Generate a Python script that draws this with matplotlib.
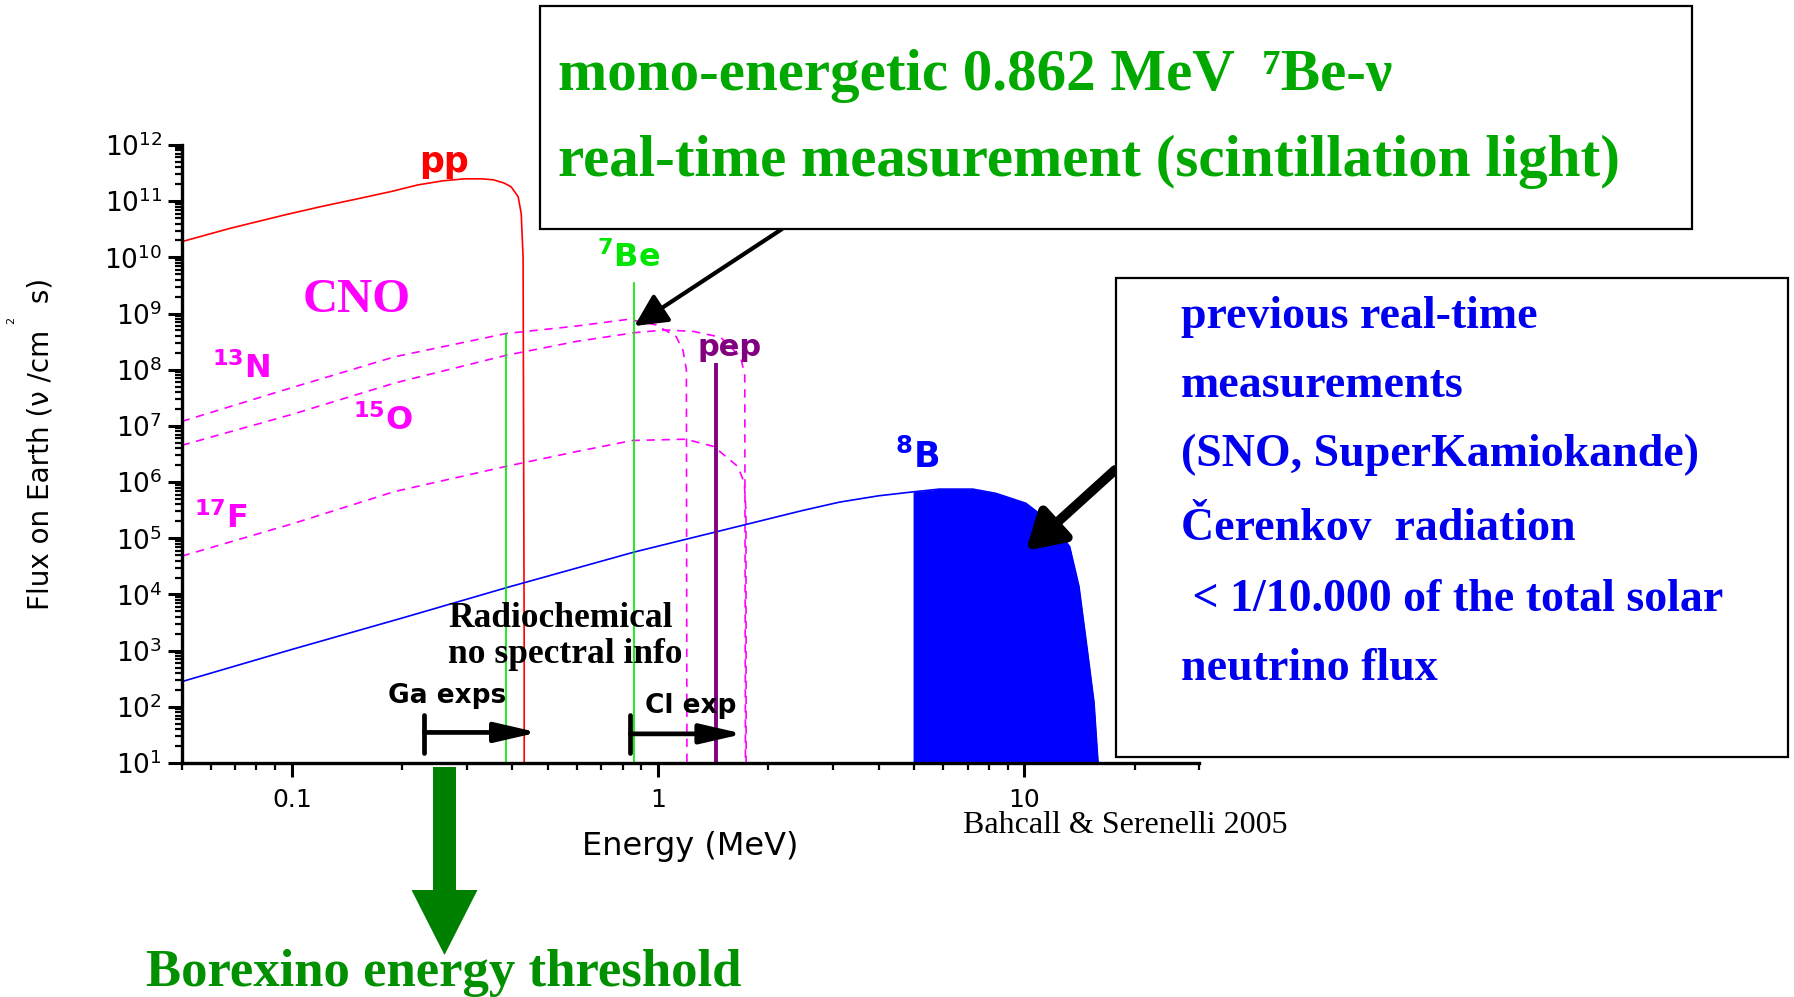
import matplotlib

matplotlib.use("Agg")

import matplotlib.pyplot as plt
import numpy as np
from matplotlib.patches import FancyArrow, Rectangle
from matplotlib.ticker import FuncFormatter, LogLocator, NullFormatter

W, H = 1794, 997

# solar neutrino spectra (energy in MeV, flux in nu/cm^2 s)
pp_energy = [0.05, 0.068, 0.0957, 0.12, 0.150, 0.188, 0.221, 0.258, 0.296, 0.33, 0.355, 0.38,
             0.397, 0.415, 0.423, 0.428, 0.431, 0.431]
pp_flux = [1.9e10, 3.3e10, 5.7e10, 8.0e10, 1.09e11, 1.5e11, 1.95e11, 2.3e11, 2.5e11, 2.5e11,
           2.4e11, 2.1e11, 1.8e11, 1.2e11, 6e10, 1e10, 1e3, 10]

n13_energy = [0.05, 0.1, 0.191, 0.384, 0.6, 0.83, 0.986, 1.12, 1.17, 1.195, 1.199]
n13_flux = [1.2e7, 4.8e7, 1.7e8, 4.4e8, 6.0e8, 7.9e8, 6.3e8, 3.9e8, 2.2e8, 1.0e8, 10]

o15_energy = [0.05, 0.1, 0.191, 0.384, 0.6, 0.87, 1.05, 1.25, 1.48, 1.68, 1.725, 1.732]
o15_flux = [4.5e6, 1.6e7, 5.8e7, 1.8e8, 3.2e8, 4.6e8, 5.1e8, 4.8e8, 3.8e8, 1.7e8, 8e7, 10]

f17_energy = [0.05, 0.1, 0.191, 0.384, 0.6, 0.85, 1.19, 1.42, 1.65, 1.72, 1.738, 1.74]
f17_flux = [4.8e4, 1.8e5, 6.8e5, 1.9e6, 3.5e6, 5.5e6, 5.8e6, 4.3e6, 1.9e6, 9.8e5, 3e5, 10]

b8_energy = [0.05, 0.1, 0.2, 0.39, 0.862, 1.44, 2.47, 3.13, 4.0, 4.97, 5.86, 7.23, 8.37,
             10.1, 11.9, 13.3, 14.1, 14.9, 15.5, 15.9]
b8_flux = [2.8e2, 1.05e3, 3.8e3, 1.35e4, 5.7e4, 1.3e5, 3.1e5, 4.4e5, 5.7e5, 6.7e5, 7.5e5,
           7.5e5, 6.3e5, 4.2e5, 1.85e5, 7.1e4, 1.4e4, 9e2, 1.2e2, 10]
b8_fill_from = 4.97

# mono-energetic lines: 7Be (two), pep
line_energy = [0.384, 0.862, 1.442]
line_top = [4.3e8, 3.5e9, 1.2e8]
line_color = ["#00e600", "#00e600", "#800080"]
line_width = [1.2, 1.2, 2.8]

# radiochemical thresholds (start, arrow end) in MeV
ga_range = [0.23, 0.47]
cl_range = [0.84, 1.71]

top_box_lines = ["mono-energetic 0.862 MeV  \u2077Be-\u03bd",
                 "real-time measurement (scintillation light)"]
right_box_lines = ["previous real-time", "measurements", "(SNO, SuperKamiokande)",
                   "\u010cerenkov  radiation", " < 1/10.000 of the total solar", "neutrino flux"]

SERIF = ["Liberation Serif", "DejaVu Serif"]


def fpos(x, y):
    """pixel position in the 1794x997 picture -> figure fraction"""
    return x / W, 1 - y / H


plt.rcParams["mathtext.default"] = "regular"
fig = plt.figure(figsize=(W / 100, H / 100), dpi=100)
ax = fig.add_axes([181.6 / W, 1 - 763 / H, (1199 - 181.6) / W, 618 / H])

ax.plot(pp_energy, pp_flux, color="red", lw=1.2)
for e, f in [(n13_energy, n13_flux), (o15_energy, o15_flux), (f17_energy, f17_flux)]:
    ax.plot(e, f, color="#ff00ff", lw=1.2, dashes=(5, 4))
ax.plot(b8_energy, b8_flux, color="blue", lw=1.2)
b8_e = np.array(b8_energy)
b8_f = np.array(b8_flux)
mask = b8_e >= b8_fill_from
ax.fill_between(b8_e[mask], b8_f[mask], 10, color="blue", lw=0)
for e, top, c, lw in zip(line_energy, line_top, line_color, line_width):
    ax.plot([e, e], [10, top], color=c, lw=lw)

# radiochemical experiment thresholds
for (start, end), ya in [(ga_range, 35), (cl_range, 33)]:
    ax.plot([start, start], [15, 72], color="k", lw=3.4, solid_capstyle="round")
    ax.annotate("", xy=(end, ya), xytext=(start, ya),
                arrowprops=dict(arrowstyle="-|>,head_length=1.3,head_width=0.3", lw=3.4,
                                color="k", mutation_scale=20, shrinkA=0, shrinkB=0))

ax.set_xscale("log")
ax.set_yscale("log")
ax.set_xlim(0.05, 30)
ax.set_ylim(10, 1e12)
ax.yaxis.set_major_locator(LogLocator(base=10, numticks=20))
ax.yaxis.set_minor_locator(LogLocator(base=10, subs=np.arange(2, 10), numticks=20))
ax.yaxis.set_minor_formatter(NullFormatter())
ax.xaxis.set_major_formatter(FuncFormatter(lambda v, p: f"{v:g}"))
ax.xaxis.set_minor_formatter(NullFormatter())
for s in ["top", "right"]:
    ax.spines[s].set_visible(False)
for s in ["left", "bottom"]:
    ax.spines[s].set_linewidth(2.4)
ax.tick_params(which="major", direction="out", length=10, width=2.2)
ax.tick_params(which="minor", direction="out", length=5, width=1.6)
ax.tick_params(axis="y", labelsize=19, pad=4)
ax.tick_params(axis="x", labelsize=18, pad=8)
ax.set_xlabel("Energy (MeV)", fontsize=23, labelpad=14)

fig.text(*fpos(40, 444), "Flux on Earth (\u03bd /cm   s)", rotation=90, fontsize=20,
         ha="center", va="center")
fig.text(*fpos(11, 320), "2", rotation=90, fontsize=8, ha="center", va="center")

# species labels
fig.text(*fpos(444, 172), "pp", color="red", fontsize=25, fontweight="bold", ha="center",
         va="baseline")
fig.text(*fpos(357, 312), "CNO", color="#ff00ff", fontsize=35, fontweight="bold", family=SERIF,
         ha="center", va="baseline")
for txt, x, y in [(r"$^{13}$N", 212, 378), (r"$^{15}$O", 353, 430), (r"$^{17}$F", 194, 528)]:
    fig.text(*fpos(x, y), txt, color="#ff00ff", fontsize=23, fontweight="bold", va="baseline")
fig.text(*fpos(597, 267), r"$^{7}$Be", color="#00e600", fontsize=23, fontweight="bold",
         va="baseline")
fig.text(*fpos(730, 356), "pep", color="#800080", fontsize=22, fontweight="bold",
         ha="center", va="baseline")
fig.text(*fpos(895, 468), r"$^{8}$B", color="blue", fontsize=25, fontweight="bold",
         va="baseline")
fig.text(*fpos(448, 627), "Radiochemical", fontsize=25.5, fontweight="bold", family=SERIF,
         va="baseline")
fig.text(*fpos(448, 663), "no spectral info", fontsize=25.5, fontweight="bold", family=SERIF,
         va="baseline")
fig.text(*fpos(447, 703), "Ga exps", fontsize=19, fontweight="bold", ha="center",
         va="baseline")
fig.text(*fpos(691, 713), "Cl exp", fontsize=19, fontweight="bold", ha="center",
         va="baseline")
fig.text(*fpos(1125, 833), "Bahcall & Serenelli 2005", fontsize=23, family=SERIF,
         ha="center", va="baseline")

# boxes
top_box = Rectangle(fpos(540, 229), 1152 / W, 223 / H, transform=fig.transFigure,
                    facecolor="white", edgecolor="black", lw=1.6, zorder=5)
right_box = Rectangle(fpos(1116, 757), 672 / W, 479 / H, transform=fig.transFigure,
                      facecolor="white", edgecolor="black", lw=1.6, zorder=5)
fig.add_artist(top_box)
fig.add_artist(right_box)
for txt, y in zip(top_box_lines, [76, 162]):
    fig.text(*fpos(558, y), txt, color="#00a800", fontsize=42.5, fontweight="bold",
             family=SERIF, va="center", zorder=6)
for txt, y in zip(right_box_lines, [317, 386, 455, 529, 600, 669]):
    fig.text(*fpos(1181, y), txt, color="#0000ee", fontsize=33, fontweight="bold", family=SERIF,
             va="center", zorder=6)

# pointer arrows
ax.annotate("", xy=(0.862, 6e8), xycoords="data", xytext=fpos(782, 229),
            textcoords="figure fraction", annotation_clip=False,
            arrowprops=dict(arrowstyle="-|>,head_length=0.9,head_width=0.45", lw=3, color="k",
                            mutation_scale=22, shrinkA=0, shrinkB=0), zorder=7)
ax.annotate("", xy=(10.1, 6e4), xycoords="data", xytext=fpos(1115, 470),
            textcoords="figure fraction", annotation_clip=False,
            arrowprops=dict(arrowstyle="-|>,head_length=1.0,head_width=0.6", lw=7, color="k",
                            mutation_scale=22, shrinkA=0, shrinkB=0), zorder=7)

# Borexino threshold arrow
x0, y0 = fpos(444.5, 767)
x1, y1 = fpos(444.5, 955)
fig.add_artist(FancyArrow(x0, y0, 0, y1 - y0, width=23 / W, head_width=66 / W,
                          head_length=65 / H, length_includes_head=True,
                          transform=fig.transFigure, color="#008000", lw=0))
fig.text(*fpos(444, 986), "Borexino energy threshold", color="#009000", fontsize=38,
         fontweight="bold", family=SERIF, ha="center", va="baseline")

fig.savefig("out.png", dpi=100)
